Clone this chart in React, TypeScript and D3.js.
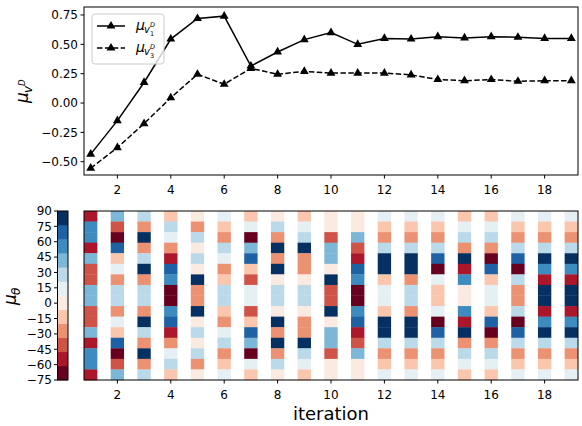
import React from "react";
import * as d3 from "d3";

const iterations = [1, 2, 3, 4, 5, 6, 7, 8, 9, 10, 11, 12, 13, 14, 15, 16, 17, 18, 19];
const muV1 = [-0.435, -0.15, 0.175, 0.545, 0.72, 0.74, 0.315, 0.435, 0.54, 0.6, 0.5, 0.55, 0.545, 0.565, 0.555, 0.565, 0.56, 0.55, 0.55];
const muV3 = [-0.555, -0.38, -0.175, 0.045, 0.245, 0.16, 0.295, 0.245, 0.27, 0.255, 0.255, 0.255, 0.24, 0.2, 0.19, 0.2, 0.185, 0.19, 0.19];
const yTicksTop = [-0.5, -0.25, 0, 0.25, 0.5, 0.75];
const xTicks = [2, 4, 6, 8, 10, 12, 14, 16, 18];
const thetaTicks = [90, 75, 60, 45, 30, 15, 0, -15, -30, -45, -60, -75];
// colour level (0 = -75 end, 11 = 90 end) of each of the 16 cells, top to bottom, per iteration
const thetaLevels = [
  [1, 9, 9, 1, 8, 2, 2, 8, 8, 2, 2, 8, 1, 9, 9, 1],
  [8, 2, 0, 10, 4, 6, 3, 7, 7, 3, 6, 4, 10, 0, 2, 8],
  [7, 3, 11, 3, 7, 11, 3, 7, 7, 3, 11, 7, 3, 11, 3, 7],
  [4, 7, 6, 3, 1, 10, 9, 0, 0, 9, 10, 1, 3, 6, 7, 4],
  [5, 3, 7, 5, 7, 5, 11, 3, 3, 11, 5, 7, 5, 7, 3, 5],
  [6, 4, 3, 7, 6, 3, 4, 7, 7, 4, 3, 6, 7, 3, 4, 6],
  [4, 6, 0, 8, 10, 4, 2, 6, 6, 2, 4, 10, 8, 0, 6, 4],
  [5, 7, 3, 11, 3, 11, 5, 7, 7, 5, 11, 3, 11, 3, 7, 5],
  [4, 6, 7, 11, 3, 3, 5, 7, 7, 5, 3, 3, 11, 7, 6, 4],
  [5, 5, 2, 8, 8, 5, 11, 2, 2, 11, 5, 8, 8, 2, 5, 5],
  [5, 5, 8, 2, 1, 10, 9, 0, 0, 9, 10, 1, 2, 8, 5, 5],
  [6, 4, 3, 7, 11, 11, 4, 6, 6, 4, 11, 11, 7, 3, 4, 6],
  [6, 4, 3, 7, 11, 11, 3, 7, 7, 3, 11, 11, 7, 3, 4, 6],
  [6, 4, 3, 7, 10, 0, 6, 4, 4, 6, 0, 10, 7, 3, 4, 6],
  [4, 6, 7, 3, 11, 1, 9, 5, 5, 9, 1, 11, 3, 7, 6, 4],
  [4, 6, 7, 3, 0, 10, 4, 6, 6, 4, 10, 0, 3, 7, 6, 4],
  [6, 4, 3, 7, 10, 0, 7, 3, 3, 7, 0, 10, 7, 3, 4, 6],
  [6, 4, 3, 7, 11, 9, 1, 11, 11, 1, 9, 11, 7, 3, 4, 6],
  [6, 4, 3, 7, 11, 9, 1, 11, 11, 1, 9, 11, 7, 3, 4, 6],
];
const rdbu12 = ["#67001f", "#ab162a", "#cf5347", "#ec9273", "#fac7ae", "#faeae1", "#e6eff4", "#bad9e9", "#7cb7d7", "#3d8bbf", "#1e61a5", "#053061"];

const FONT = "DejaVu Sans, sans-serif";

export default function App() {
  const L = 84, R = 578;
  const topT = 7, topB = 175;
  const botT = 211, botB = 380;
  const x = d3.scaleLinear().domain([0.75, 19.25]).range([L, R]);
  const yTop = d3.scaleLinear().domain([-0.613, 0.818]).range([topB, topT]);
  const thetaMin = -75, thetaMax = 90;
  const color = d3.scaleQuantize<string>().domain([thetaMin, thetaMax]).range(rdbu12);
  const levelToTheta = (k: number) => thetaMin + ((k + 0.5) * (thetaMax - thetaMin)) / 12;
  const rowBand = d3.scaleBand<number>().domain(d3.range(16)).range([botT, botB]).padding(0);
  const cbY = d3.scaleLinear().domain([thetaMin, thetaMax]).range([botB, botT]);
  const cbL = 57.5, cbR = 68;

  const line = d3.line<number>().x((_, i) => x(iterations[i])).y((d) => yTop(d));
  const tri = d3.symbol().type(d3.symbolTriangle).size(34)();

  const series = [
    { vals: muV1, dash: undefined as string | undefined },
    { vals: muV3, dash: "5.5 2.4" },
  ];

  return (
    <svg width={582} height={426} style={{ position: "absolute", left: 0, top: 0, background: "#fff" }} fontFamily={FONT}>
      {/* top panel */}
      <g>
        <clipPath id="topclip"><rect x={L} y={topT} width={R - L} height={topB - topT} /></clipPath>
        {series.map((s, si) => (
          <g key={si} clipPath="url(#topclip)">
            <path d={line(s.vals) || ""} fill="none" stroke="#000" strokeWidth={1.5} strokeDasharray={s.dash} />
            {s.vals.map((v, i) => (
              <path key={i} d={tri || ""} transform={`translate(${x(iterations[i])},${yTop(v)})`} fill="#000" />
            ))}
          </g>
        ))}
        <rect x={L} y={topT} width={R - L} height={topB - topT} fill="none" stroke="#000" strokeWidth={1} />
        {xTicks.map((t) => (
          <g key={t}>
            <line x1={x(t)} x2={x(t)} y1={topB} y2={topB + 3.5} stroke="#000" />
            <text x={x(t)} y={topB + 19} textAnchor="middle" fontSize={12}>{t}</text>
          </g>
        ))}
        {yTicksTop.map((t) => (
          <g key={t}>
            <line x1={L - 3.5} x2={L} y1={yTop(t)} y2={yTop(t)} stroke="#000" />
            <text x={L - 6} y={yTop(t) + 4.3} textAnchor="end" fontSize={12}>{t < 0 ? "\u2212" + Math.abs(t).toFixed(2) : t.toFixed(2)}</text>
          </g>
        ))}
        {/* y label */}
        <g transform="translate(28,91) rotate(-90)">
          <text x={-12} y={0} fontSize={17} fontStyle="italic">μ</text>
          <text x={-2} y={4} fontSize={12} fontStyle="italic">v</text>
          <text x={5} y={-3} fontSize={8.5} fontStyle="italic">D</text>
        </g>
        {/* legend */}
        <rect x={92} y={14} width={72} height={50} rx={3} fill="#fff" fillOpacity={0.8} stroke="#ccc" />
        {series.map((s, si) => {
          const ly = 26 + si * 22;
          return (
            <g key={si}>
              <line x1={97} x2={125} y1={ly} y2={ly} stroke="#000" strokeWidth={1.5} strokeDasharray={s.dash} />
              <path d={tri || ""} transform={`translate(111,${ly})`} fill="#000" />
              <text x={136} y={ly + 4} fontSize={14} fontStyle="italic">μ</text>
              <text x={144} y={ly + 7} fontSize={10} fontStyle="italic">v</text>
              <text x={150} y={ly + 1} fontSize={6.5} fontStyle="italic">D</text>
              <text x={150} y={ly + 10} fontSize={6.5}>{si === 0 ? "1" : "3"}</text>
            </g>
          );
        })}
      </g>

      {/* bottom heatmap */}
      <g>
        {thetaLevels.map((col, ci) => (
          <g key={ci}>
            {col.map((lv, ri) => (
              <rect
                key={ri}
                x={x(iterations[ci] - 0.25)}
                y={rowBand(ri)}
                width={x(iterations[ci] + 0.25) - x(iterations[ci] - 0.25)}
                height={rowBand.bandwidth() + 0.3}
                fill={color(levelToTheta(lv))}
              />
            ))}
          </g>
        ))}
        <rect x={L} y={botT} width={R - L} height={botB - botT} fill="none" stroke="#000" strokeWidth={1} />
        {xTicks.map((t) => (
          <g key={t}>
            <line x1={x(t)} x2={x(t)} y1={botB} y2={botB + 3.5} stroke="#000" />
            <text x={x(t)} y={botB + 19} textAnchor="middle" fontSize={12}>{t}</text>
          </g>
        ))}
        <text x={(L + R) / 2} y={420} textAnchor="middle" fontSize={18}>iteration</text>

        {/* colorbar */}
        {rdbu12.map((c, i) => {
          const lo = thetaMin + (i * (thetaMax - thetaMin)) / 12;
          const hi = thetaMin + ((i + 1) * (thetaMax - thetaMin)) / 12;
          return <rect key={i} x={cbL} y={cbY(hi)} width={cbR - cbL} height={cbY(lo) - cbY(hi) + 0.3} fill={color((lo + hi) / 2)} />;
        })}
        <rect x={cbL} y={botT} width={cbR - cbL} height={botB - botT} fill="none" stroke="#000" strokeWidth={1} />
        {thetaTicks.map((t) => (
          <g key={t}>
            <line x1={cbL - 3.5} x2={cbL} y1={cbY(t)} y2={cbY(t)} stroke="#000" />
            <text x={cbL - 5.5} y={cbY(t) + 4.3} textAnchor="end" fontSize={12}>{t < 0 ? "\u2212" + Math.abs(t) : t}</text>
          </g>
        ))}
        <g transform="translate(16,296) rotate(-90)">
          <text x={-9} y={0} fontSize={17} fontStyle="italic">μ</text>
          <text x={1} y={4} fontSize={12} fontStyle="italic">θ</text>
        </g>
      </g>
    </svg>
  );
}
